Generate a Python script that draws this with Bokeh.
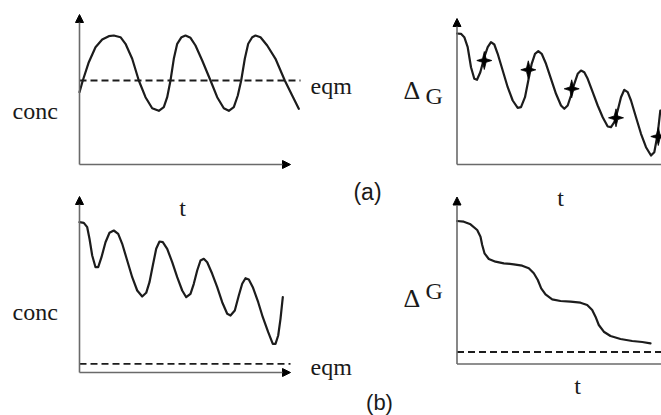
from bokeh.plotting import figure
from bokeh.models import Range1d, Arrow, NormalHead
from bokeh.core.properties import value
from bokeh.embed import file_html
from bokeh.resources import INLINE

# ---------------- data (t and value in panel units) -------------
# (a) left: concentration oscillating about equilibrium
a_conc_t = [0, 3.3, 9.3, 16, 22.7, 29.3, 34.3, 41, 46, 52.7, 59.3, 66, 72.7, 79.3, 84.3, 87.7,
            91, 94.3, 97.7, 102, 106, 111, 116, 122.7, 131, 137.7, 144.3, 149.3, 154.3, 158.3,
            161.7, 165.3, 168.7, 172.7, 176, 181, 187.7, 196, 205.3, 212.7, 219.3]
a_conc_v = [72.3, 84, 102.3, 117.3, 125, 128.3, 129, 127.3, 120.7, 105.7, 84, 67.3, 56.3, 53.7,
            57.3, 67.3, 84, 105.7, 120.7, 127.3, 129, 126.7, 119, 104, 84, 67.3, 56.3, 53.7,
            57.3, 69, 84, 105.7, 120.7, 127.3, 129, 127.3, 119, 105.7, 84, 69, 55.7]
a_conc_eqm = 84
a_conc_eqm_span = [0, 221]

# (a) right: free energy oscillating while falling, with star marks
a_dg_t = [0, 4, 7.3, 10.7, 14, 17.3, 20, 23.3, 27.3, 30.7, 34, 37.3, 40.7, 45.7, 50.7, 55.7,
          60.7, 64, 68, 71.3, 74.7, 78, 81.3, 84.7, 89, 94, 99, 104, 107.3, 110.7, 114,
          117.3, 120.7, 124, 127.3, 130.7, 135.7, 140.7, 145.7, 150.7, 154, 157.3, 160.7,
          164, 167.3, 170.7, 174, 179, 184, 189, 194, 197.3, 200.7, 203.3]
a_dg_v = [131, 130.7, 127.3, 117.3, 97.3, 85.7, 84.7, 92.3, 107.3, 117.3, 122.3, 120, 110.7,
          94, 77.3, 64, 56.7, 57.3, 67.3, 84, 100.7, 110.7, 113.3, 110.7, 100.7, 85.7, 70.7,
          59, 55.7, 59, 69, 80.7, 90.7, 94, 92.3, 85.7, 72.3, 59, 47.3, 38, 37.3, 42.3, 54,
          67.3, 74.7, 72.3, 64, 47.3, 30.7, 17.3, 9, 12.3, 30.7, 54]
a_star_t = [27.3, 71.3, 114.7, 159, 201.3]
a_star_v = [104, 94.7, 75.7, 46.7, 28]

# (b) left: concentration oscillating while falling, far above equilibrium
b_conc_t = [0, 4.3, 7.7, 10, 12.7, 16, 18.7, 22, 26, 30, 34.3, 38.7, 42.7, 47.7, 52.7, 57.7,
            62.7, 66.7, 70, 73.3, 76.7, 80, 83.3, 87.7, 92.7, 97.7, 102.7, 106.7, 111, 114.3,
            117.7, 121, 124.3, 127.7, 132.7, 137.7, 142.7, 147.7, 151, 155.3, 159.3, 162.7,
            166, 169.3, 173.3, 178.7, 183.3, 188.7, 193.3, 196, 198.7, 201, 203.3]
b_conc_v = [150.3, 149.7, 145.3, 133.7, 117, 105.3, 105.3, 115.3, 130.3, 139.7, 142, 138.7,
            128.7, 112, 95.3, 82, 76, 79.7, 90.3, 107, 123.7, 131, 130.3, 123.7, 110.3, 95.3,
            82, 75.3, 78.7, 88.7, 102, 112, 113.7, 110.3, 98.7, 85.3, 70.3, 58.7, 57, 62, 77,
            88.7, 94.3, 93, 85.3, 70.3, 55.3, 40.3, 28.7, 28.7, 37, 53.7, 75.3]
b_conc_eqm = 8.7
b_conc_eqm_span = [0, 211]

# (b) right: free energy falling in steps towards equilibrium
b_dg_t = [0, 6.8, 13.5, 20.2, 23.5, 25.2, 27.5, 31.8, 38.5, 46.8, 56.8, 65.2, 71.8, 76.8,
          80.8, 84.2, 88.5, 95.2, 103.5, 113.5, 123.5, 130.2, 135.2, 138.5, 141.8, 146.8,
          153.5, 163.5, 175.2, 185.2, 193.5]
b_dg_v = [143, 142.3, 139.7, 134, 127.3, 119, 110.7, 105, 102.3, 100.7, 99.7, 98.3, 95.7,
          90.7, 84, 75.7, 69.7, 64.7, 63, 62.3, 61.3, 59, 54, 47.3, 39, 32.3, 28, 25, 23,
          22, 20.7]
b_dg_eqm = 12
b_dg_eqm_span = [0, 215]

# ---------------- layout (picture pixels) ----------------
W, H = 661, 415
p = figure(width=W, height=H, output_backend="svg", toolbar_location=None,
           x_range=Range1d(0, W), y_range=Range1d(H, 0),
           min_border=0, outline_line_color=None, background_fill_color="white",
           border_fill_color="white")
p.xaxis.visible = False
p.yaxis.visible = False
p.xgrid.visible = False
p.ygrid.visible = False

# panel origins (x, y of axis corner) and axis lengths
panels = {
    "a_conc": dict(ox=79, oy=164, ylen=150, xlen=211),
    "a_dg": dict(ox=456.5, oy=164, ylen=146, xlen=215),
    "b_conc": dict(ox=79, oy=372, ylen=176, xlen=211),
    "b_dg": dict(ox=456.5, oy=363.5, ylen=167, xlen=215),
}

AXIS = "#6a6a6a"
INK = "#1c1c1c"
SERIF = value("Liberation Serif")


def px(panel, ts, vs):
    o = panels[panel]
    return [o["ox"] + t for t in ts], [o["oy"] - v for v in vs]


for name, o in panels.items():
    for (xe, ye) in [(o["ox"], o["oy"] - o["ylen"]), (o["ox"] + o["xlen"], o["oy"])]:
        p.add_layout(Arrow(end=NormalHead(size=8, fill_color="black", line_color="black",
                                          line_width=1),
                           x_start=o["ox"], y_start=o["oy"], x_end=xe, y_end=ye,
                           line_color=AXIS, line_width=1.6))

# curves
for name, ts, vs in [("a_conc", a_conc_t, a_conc_v), ("a_dg", a_dg_t, a_dg_v),
                     ("b_conc", b_conc_t, b_conc_v), ("b_dg", b_dg_t, b_dg_v)]:
    xs, ys = px(name, ts, vs)
    p.line(xs, ys, line_color=INK, line_width=2.2, line_join="round", line_cap="round")

# equilibrium dashed lines
for name, lvl, span in [("a_conc", a_conc_eqm, a_conc_eqm_span),
                        ("b_conc", b_conc_eqm, b_conc_eqm_span),
                        ("b_dg", b_dg_eqm, b_dg_eqm_span)]:
    xs, ys = px(name, span, [lvl, lvl])
    p.line(xs, ys, line_color=INK, line_width=1.8, line_dash="7 4")

# four-pointed star marks drawn as small polygons around each star position
sx, sy = px("a_dg", a_star_t, a_star_v)
HW, HH, R = 7.5, 9.0, 1.8
star_dx = [HW, R, 0, -R, -HW, -R, 0, R]
star_dy = [0, -R, -HH, -R, 0, R, HH, R]
p.patches([[x + d for d in star_dx] for x in sx], [[y + d for d in star_dy] for y in sy],
          fill_color="black", line_color="black", line_width=0.8)


# labels
def label(x, y, s, size="24px", font=SERIF, align="left", baseline="alphabetic"):
    p.text([x], [y], text=[s], text_font=font, text_font_size=size, text_align=align,
           text_baseline=baseline, text_color="#1a1a1a")


label(12, 110, "conc")
label(310, 85, "eqm")
label(182, 207, "t", align="center")
label(403, 90, "\u0394", "26px")
label(425, 95, "G")
label(560, 197, "t", align="center")
label(367, 191, "(a)", "23px", font=value("Liberation Sans"), align="center")

label(12, 311, "conc")
label(310, 366, "eqm")
label(403, 298, "\u0394", "26px")
label(425, 290, "G")
label(577, 385, "t", align="center")
label(379, 402, "(b)", "22px", font=value("Liberation Sans"), align="center")

open("out.html", "w").write(file_html(p, INLINE))
